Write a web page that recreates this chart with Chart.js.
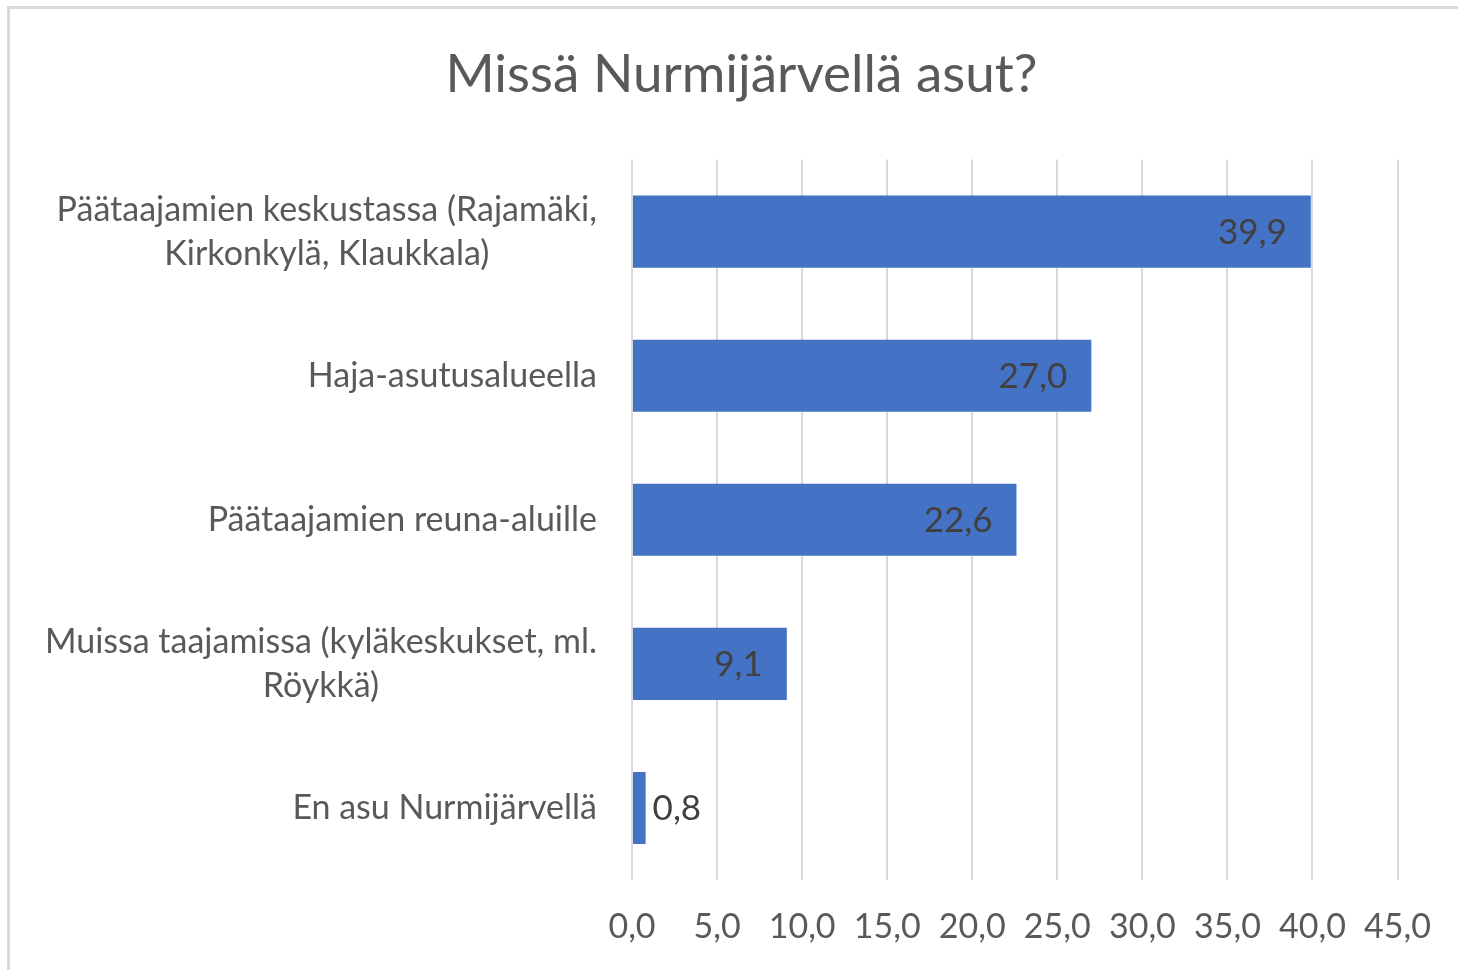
<!DOCTYPE html>
<html><head><meta charset="utf-8">
<script src="https://cdn.jsdelivr.net/npm/chart.js@4"></script>
<style>html,body{margin:0;padding:0;background:#fff;}</style>
</head><body><canvas id="c" width="1458" height="970"></canvas>
<script>
const chartTitle = 'Missä Nurmijärvellä asut?';
const categories = [
  ['Päätaajamien keskustassa (Rajamäki,', 'Kirkonkylä, Klaukkala)'],
  'Haja-asutusalueella',
  'Päätaajamien reuna-aluille',
  ['Muissa taajamissa (kyläkeskukset, ml.', 'Röykkä)'],
  'En asu Nurmijärvellä'
];
const values = [39.9, 27.0, 22.6, 9.1, 0.8];
const xTicks = [0, 5, 10, 15, 20, 25, 30, 35, 40, 45];

const FONT = 'Lato';
const fmt = v => Number(v).toFixed(1).replace('.', ',');

const borderPlugin = {
  id: 'frame',
  afterLayout(chart) {
    // centre the title over the whole chart frame rather than the padded box
    if (chart.titleBlock) chart.titleBlock.left += 64;
  },
  beforeDraw(chart) {
    const ctx = chart.ctx;
    ctx.save();
    ctx.fillStyle = '#fff';
    ctx.fillRect(0, 0, chart.width, chart.height);
    ctx.strokeStyle = '#d9d9d9';
    ctx.lineWidth = 3;
    ctx.strokeRect(8.5, 7.5, 1600, 1200);
    ctx.restore();
    // center multi-line category labels within their own block
    const s = chart.scales.y;
    const items = s.getLabelItems(chart.chartArea);
    items.forEach(it => {
      if (Array.isArray(it.label) && !it._centered) {
        ctx.save();
        ctx.font = it.font.string;
        const w = Math.max(...it.label.map(l => ctx.measureText(l).width));
        ctx.restore();
        it.options.textAlign = 'center';
        it.options.translation[0] -= w / 2;
        it._centered = true;
      }
    });
  }
};

const valueLabels = {
  id: 'valueLabels',
  afterDatasetsDraw(chart) {
    const ctx = chart.ctx;
    const meta = chart.getDatasetMeta(0);
    ctx.save();
    ctx.font = '35px ' + FONT;
    ctx.fillStyle = '#404040';
    ctx.textBaseline = 'middle';
    meta.data.forEach((bar, i) => {
      const txt = fmt(values[i]);
      const inside = (bar.x - bar.base) > 80;
      ctx.textAlign = inside ? 'right' : 'left';
      ctx.fillText(txt, inside ? bar.x - 24 : bar.x + 7, bar.y + 1);
    });
    ctx.restore();
  }
};

new Chart(document.getElementById('c'), {
  type: 'bar',
  data: {
    labels: categories,
    datasets: [{
      data: values,
      backgroundColor: '#4472C4',
      borderWidth: 0,
      categoryPercentage: 0.5,
      barPercentage: 1.0
    }]
  },
  plugins: [borderPlugin, valueLabels],
  options: {
    indexAxis: 'y',
    responsive: false,
    animation: false,
    layout: { padding: { left: 20, right: 59, top: 0, bottom: 0 } },
    plugins: {
      legend: { display: false },
      tooltip: { enabled: false },
      title: {
        display: true,
        text: chartTitle,
        color: '#595959',
        font: { family: FONT, size: 53, weight: 'normal', lineHeight: 1.2 },
        padding: { top: 43, bottom: 53 }
      }
    },
    scales: {
      x: {
        min: 0, max: 45,
        afterBuildTicks(scale) { scale.ticks = xTicks.map(v => ({ value: v })); },
        afterFit(scale) { scale.height = 90; },
        grid: { color: '#d9d9d9', lineWidth: 2, drawTicks: false },
        border: { display: false },
        ticks: {
          color: '#595959',
          padding: 27,
          maxRotation: 0,
          font: { family: FONT, size: 34, lineHeight: 1.2 },
          callback: v => fmt(v)
        }
      },
      y: {
        afterFit(scale) { scale.width = 612; },
        grid: { display: false, drawTicks: false },
        border: { display: false },
        ticks: {
          color: '#595959',
          padding: 35,
          font: { family: FONT, size: 34, lineHeight: 1.3 }
        }
      }
    }
  }
});
</script>
</body></html>
